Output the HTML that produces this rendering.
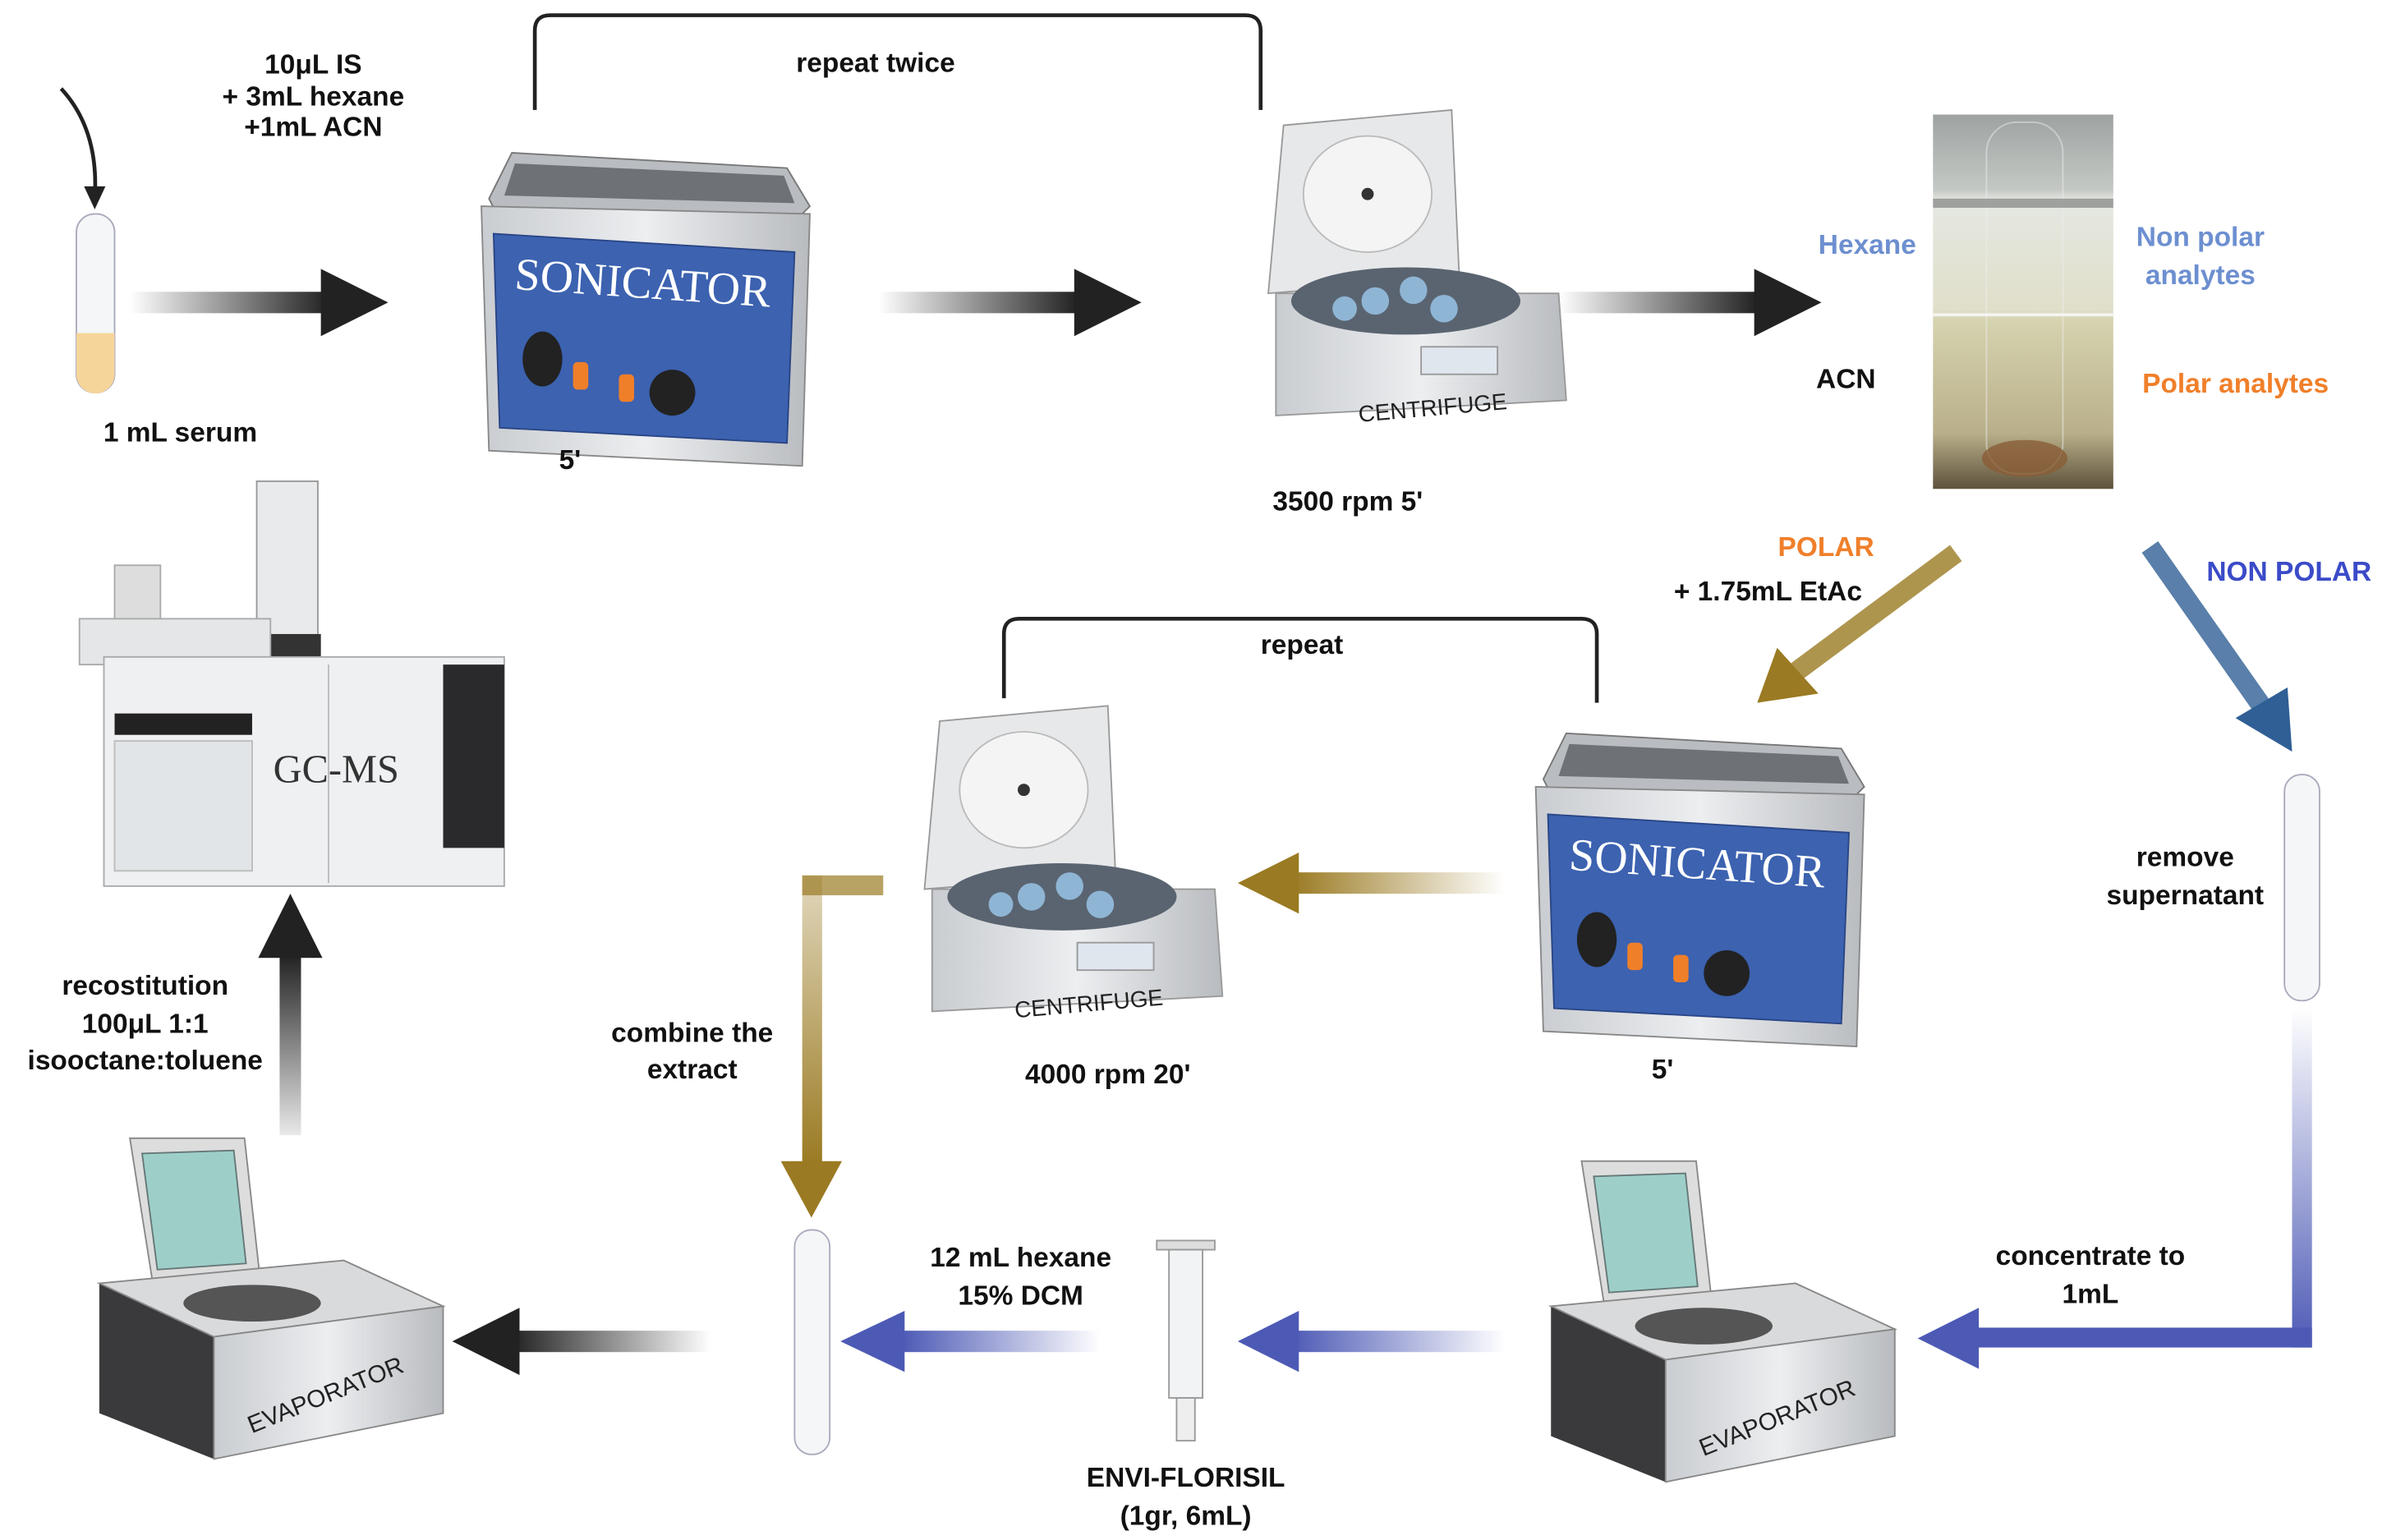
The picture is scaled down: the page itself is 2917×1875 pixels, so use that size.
<!DOCTYPE html>
<html><head><meta charset="utf-8"><style>
html,body{margin:0;padding:0;background:#fff}
svg{display:block}
text{font-family:"Liberation Sans",sans-serif;font-weight:bold;font-size:18px;text-anchor:middle;fill:#111}
</style></head><body>
<svg width="2917" height="1875" viewBox="0 0 1568 1008" preserveAspectRatio="none" xmlns="http://www.w3.org/2000/svg">
<defs>
<linearGradient id="kL" x1="0" x2="1" y1="0" y2="0"><stop offset="0" stop-color="#222" stop-opacity="0"/><stop offset="1" stop-color="#222"/></linearGradient>
<linearGradient id="kR" x1="1" x2="0" y1="0" y2="0"><stop offset="0" stop-color="#222" stop-opacity="0"/><stop offset="1" stop-color="#222"/></linearGradient>
<linearGradient id="kU" x1="0" x2="0" y1="1" y2="0"><stop offset="0" stop-color="#222" stop-opacity="0.1"/><stop offset="1" stop-color="#222"/></linearGradient>
<linearGradient id="bR" x1="1" x2="0" y1="0" y2="0"><stop offset="0" stop-color="#4d5ab5" stop-opacity="0"/><stop offset="1" stop-color="#4d5ab5"/></linearGradient>
<linearGradient id="gR" x1="1" x2="0" y1="0" y2="0"><stop offset="0" stop-color="#9a7a22" stop-opacity="0"/><stop offset="1" stop-color="#9a7a22"/></linearGradient>
<linearGradient id="gD" x1="0" x2="0" y1="0" y2="1"><stop offset="0" stop-color="#9a7a22" stop-opacity="0.3"/><stop offset="1" stop-color="#9a7a22"/></linearGradient>
<linearGradient id="bD" x1="0" x2="0" y1="0" y2="1"><stop offset="0" stop-color="#4d5ab5" stop-opacity="0"/><stop offset="1" stop-color="#4d5ab5"/></linearGradient>
<linearGradient id="metal" x1="0" x2="1"><stop offset="0" stop-color="#c9ccd0"/><stop offset="0.5" stop-color="#eceef0"/><stop offset="1" stop-color="#b8bbbf"/></linearGradient>
<linearGradient id="photo" x1="0" x2="0" y1="0" y2="1"><stop offset="0" stop-color="#9ea3a2"/><stop offset="0.2" stop-color="#c4c8c4"/><stop offset="0.23" stop-color="#e5e8e2"/><stop offset="0.52" stop-color="#e0dfca"/><stop offset="0.55" stop-color="#d6d3b0"/><stop offset="0.85" stop-color="#b9b08a"/><stop offset="1" stop-color="#5e523c"/></linearGradient>
<g id="son">
<path d="M5 35 L20 5 L200 15 L215 40 L205 50 L10 45 Z" fill="#b9bcc0" stroke="#777"/>
<path d="M22 12 L198 20 L205 38 L15 33 Z" fill="#6e7175"/>
<path d="M0 40 L215 45 L210 210 L5 200 Z" fill="url(#metal)" stroke="#888"/>
<path d="M8 58 L205 70 L200 195 L12 185 Z" fill="#3c62b0" stroke="#2a4585"/>
<text x="105" y="100" transform="rotate(4 105 100)" style="font-family:'Liberation Serif',serif;font-weight:normal;font-size:30px;fill:#fff">SONICATOR</text>
<ellipse cx="40" cy="140" rx="13" ry="18" fill="#222"/>
<rect x="60" y="142" width="10" height="18" rx="3" fill="#f07f2a"/>
<rect x="90" y="150" width="10" height="18" rx="3" fill="#f07f2a"/>
<circle cx="125" cy="162" r="15" fill="#222"/>
</g>
<g id="cen">
<path d="M0 120 L10 10 L120 0 L125 110 Z" fill="#e6e8ea" stroke="#999"/>
<ellipse cx="65" cy="55" rx="42" ry="38" fill="#f4f4f4" stroke="#bbb"/>
<circle cx="65" cy="55" r="4" fill="#333"/>
<path d="M5 120 L190 120 L195 190 L5 200 Z" fill="url(#metal)" stroke="#999"/>
<ellipse cx="90" cy="125" rx="75" ry="22" fill="#5a6470"/>
<circle cx="70" cy="125" r="9" fill="#8fb5d5"/><circle cx="95" cy="118" r="9" fill="#8fb5d5"/><circle cx="115" cy="130" r="9" fill="#8fb5d5"/><circle cx="50" cy="130" r="8" fill="#8fb5d5"/>
<rect x="100" y="155" width="50" height="18" fill="#dfe6ee" stroke="#999"/>
<text x="108" y="200" transform="rotate(-5 108 200)" style="font-weight:normal;font-size:15px;fill:#222">CENTRIFUGE</text>
</g>
<g id="evap">
<path d="M20 0 L95 0 L105 90 L35 95 Z" fill="#ddd" stroke="#888"/>
<path d="M28 10 L88 8 L96 82 L38 86 Z" fill="#9dcfc8" stroke="#677"/>
<path d="M0 95 L160 80 L225 110 L225 180 L75 210 L0 180 Z" fill="#3a3a3c"/>
<path d="M0 95 L160 80 L225 110 L75 130 Z" fill="#d9dadc" stroke="#888"/>
<path d="M75 130 L225 110 L225 180 L75 210 Z" fill="url(#metal)" stroke="#888"/>
<ellipse cx="100" cy="108" rx="45" ry="12" fill="#555"/>
<text x="150" y="173" transform="rotate(-22 150 173)" style="font-weight:normal;font-size:16px;fill:#222">EVAPORATOR</text>
</g>
</defs>

<path d="M350 72 V20 Q350 10 360 10 H815 Q825 10 825 20 V72" fill="none" stroke="#222" stroke-width="2.5"/>
<text x="573" y="47">repeat twice</text>
<text x="205" y="48">10μL IS</text><text x="205" y="69">+ 3mL hexane</text><text x="205" y="89">+1mL ACN</text>
<path d="M40 58 Q65 85 62 130" fill="none" stroke="#222" stroke-width="2.5"/><polygon points="55,122 69,122 62,137" fill="#222"/>
<rect x="50" y="140" width="25" height="117" rx="12" fill="#f4f6f8" stroke="#aab"/>
<path d="M50 218 H75 V245 A12.5 12.5 0 0 1 50 245 Z" fill="#f6d59a"/>
<text x="118" y="289">1 mL serum</text>
<rect x="85" y="191" width="130" height="14" fill="url(#kL)"/><polygon points="210,176 254,198 210,220" fill="#222"/>
<use href="#son" x="315" y="95"/>
<text x="373" y="307">5'</text>
<rect x="575" y="191" width="130" height="14" fill="url(#kL)"/><polygon points="703,176 747,198 703,220" fill="#222"/>
<use href="#cen" x="830" y="72"/>
<text x="882" y="334">3500 rpm 5'</text>
<rect x="1020" y="191" width="130" height="14" fill="url(#kL)"/><polygon points="1148,176 1192,198 1148,220" fill="#222"/>
<rect x="1265" y="75" width="118" height="245" fill="url(#photo)"/>
<rect x="1300" y="80" width="50" height="230" rx="20" fill="none" stroke="#eee" stroke-opacity="0.5"/>
<rect x="1265" y="130" width="118" height="6" fill="#6e7270" opacity="0.6"/>
<rect x="1265" y="205" width="118" height="2" fill="#f4f4f0"/>
<ellipse cx="1325" cy="300" rx="28" ry="12" fill="#8a5c36" opacity="0.8"/>
<text x="1222" y="166" style="fill:#6d8fd0">Hexane</text>
<text x="1208" y="254">ACN</text>
<text x="1440" y="161" style="fill:#6d8fd0">Non polar</text><text x="1440" y="186" style="fill:#6d8fd0">analytes</text>
<text x="1463" y="257" style="fill:#f07f2a">Polar analytes</text>

<text x="1195" y="364" style="fill:#f07f2a">POLAR</text>
<text x="1157" y="393">+ 1.75mL EtAc</text>
<path d="M1280 362 L1175 440" stroke="#9a7a22" stroke-width="13" stroke-opacity="0.8"/>
<polygon points="1150,460 1163,424 1190,454" fill="#9a7a22"/>
<text x="1498" y="380" style="fill:#3b4bc8">NON POLAR</text>
<path d="M1407 358 L1480 462" stroke="#2f5f95" stroke-width="13" stroke-opacity="0.8"/>
<polygon points="1500,492 1463,470 1497,450" fill="#2f5f95"/>

<rect x="1495" y="507" width="23" height="148" rx="11" fill="#f4f6f8" stroke="#aab"/>
<text x="1430" y="567">remove</text><text x="1430" y="592">supernatant</text>
<rect x="1500" y="660" width="13" height="222" fill="url(#bD)"/>
<rect x="1290" y="869" width="223" height="13" fill="#4d5ab5"/>
<polygon points="1295,856 1255,876 1295,896" fill="#4d5ab5"/>
<text x="1368" y="828">concentrate to</text><text x="1368" y="853">1mL</text>
<use href="#evap" x="1015" y="760"/>

<path d="M657 457 V415 Q657 405 667 405 H1035 Q1045 405 1045 415 V460" fill="none" stroke="#222" stroke-width="2.5"/>
<text x="852" y="428">repeat</text>
<use href="#son" x="1005" y="475"/>
<text x="1088" y="706">5'</text>
<rect x="845" y="571" width="140" height="14" fill="url(#gR)"/><polygon points="850,558 810,578 850,598" fill="#9a7a22"/>
<use href="#cen" x="605" y="462"/>
<text x="725" y="709">4000 rpm 20'</text>
<rect x="525" y="573" width="53" height="13" fill="#9a7a22" fill-opacity="0.7"/>
<rect x="525" y="573" width="13" height="190" fill="url(#gD)"/>
<polygon points="511,760 551,760 531,797" fill="#9a7a22"/>
<text x="453" y="682">combine the</text><text x="453" y="706">extract</text>

<rect x="845" y="871" width="140" height="14" fill="url(#bR)"/><polygon points="850,858 810,878 850,898" fill="#4d5ab5"/>
<rect x="757" y="812" width="38" height="6" fill="#ddd" stroke="#999"/>
<rect x="765" y="818" width="22" height="97" fill="#f2f3f4" stroke="#999"/>
<rect x="770" y="915" width="12" height="28" fill="#eee" stroke="#999"/>
<text x="776" y="973">ENVI-FLORISIL</text><text x="776" y="998">(1gr, 6mL)</text>
<rect x="590" y="871" width="130" height="14" fill="url(#bR)"/><polygon points="592,858 550,878 592,898" fill="#4d5ab5"/>
<text x="668" y="829">12 mL hexane</text><text x="668" y="854">15% DCM</text>
<rect x="520" y="805" width="23" height="147" rx="11" fill="#f4f6f8" stroke="#aab"/>
<rect x="335" y="871" width="130" height="14" fill="url(#kR)"/><polygon points="340,856 296,878 340,900" fill="#222"/>
<use href="#evap" x="65" y="745"/>
<rect x="183" y="625" width="14" height="118" fill="url(#kU)"/><polygon points="169,627 190,585 211,627" fill="#222"/>
<text x="95" y="651">recostitution</text><text x="95" y="676">100μL 1:1</text><text x="95" y="700">isooctane:toluene</text>

<rect x="168" y="315" width="40" height="110" fill="#e8eaec" stroke="#999"/>
<rect x="170" y="415" width="40" height="20" fill="#333"/>
<rect x="75" y="370" width="30" height="50" fill="#ddd" stroke="#aaa"/>
<rect x="52" y="405" width="125" height="30" fill="#e4e6e8" stroke="#aaa"/>
<rect x="68" y="430" width="262" height="150" fill="#eef0f2" stroke="#aaa"/>
<rect x="75" y="467" width="90" height="14" fill="#222"/>
<rect x="75" y="485" width="90" height="85" fill="#e2e5e8" stroke="#bbb"/>
<line x1="215" y1="435" x2="215" y2="578" stroke="#bbb"/>
<rect x="290" y="435" width="40" height="120" fill="#2a2a2c"/>
<text x="220" y="512" style="font-family:'Liberation Serif',serif;font-weight:normal;font-size:26px;fill:#333">GC-MS</text>
</svg>
</body></html>
